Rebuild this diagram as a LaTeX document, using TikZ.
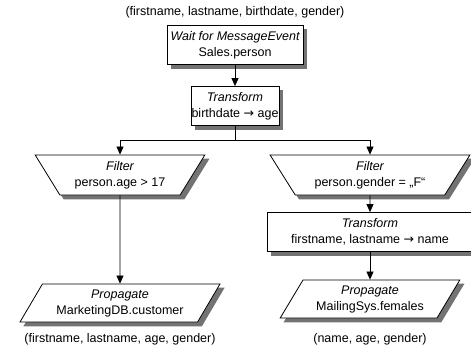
\documentclass[tikz,border=0pt]{standalone}
\usepackage{fontspec}
\setmainfont{Liberation Sans}
\newfontfamily\arrowfont{DejaVu Sans}
\usetikzlibrary{arrows.meta,shapes.geometric,backgrounds,positioning}

\newcommand{\toarrow}{{\arrowfont →}}
\newcommand{\boxshadow}[1]{\fill[shadowfill] ([shift={(4,4)}]#1.north west) rectangle ([shift={(4,4)}]#1.south east);}
\newcommand{\trapshadow}[1]{\fill[shadowfill] ([shift={(4,4)}]#1.top left corner) -- ([shift={(4,4)}]#1.top right corner)
	-- ([shift={(4,4)}]#1.bottom right corner) -- ([shift={(4,4)}]#1.bottom left corner) -- cycle;}

\begin{document}
\begin{tikzpicture}
	[x=1pt, y=-1pt, inner sep=0pt, line width=0.8pt,
	font=\fontsize{12.5}{16}\selectfont,
	shadowfill/.style	= {fill=black!55},
	operator/.style	= {rectangle, draw, fill=white, align=center, minimum height=39pt},
	filterop/.style	= {trapezium, shape border rotate=180, trapezium left angle=56, trapezium right angle=56,
		trapezium stretches=true, draw, fill=white, align=center, minimum height=40pt},
	target/.style	= {trapezium, trapezium left angle=56, trapezium right angle=124,
		trapezium stretches=true, draw, fill=white, align=center, minimum height=38pt},
	paths/.style	= {-{Triangle[length=8pt, width=7pt]}},
	schema/.style	= {align=center}]
	
	\useasboundingbox (0,0) rectangle (471,350);
	
	\node at (235, 12)	[schema]	(inrow)		{(firstname, lastname, birthdate, gender)};
	
	\node at (235, 45)	[operator, minimum width=136pt]	(wait)	{\itshape Wait for MessageEvent\\Sales.person};
	\node at (235, 106)	[operator, minimum width=88pt]	(trans1)	{\itshape Transform\\birthdate \toarrow{} age};
	
	\node at (120, 175)	[filterop, minimum width=170pt]	(filterL)	{\itshape Filter\\person.age > 17};
	\node at (370, 175)	[filterop, minimum width=200pt]	(filterR)	{\itshape Filter\\person.gender = „F“};
	
	\node at (370, 232)	[operator, minimum width=205pt]	(trans2)	{\itshape Transform\\firstname, lastname \toarrow{} name};
	
	\node at (120, 303)	[target, minimum width=200pt]	(propL)	{\itshape Propagate\\MarketingDB.customer};
	\node at (370, 299)	[target, minimum width=180pt]	(propR)	{\itshape Propagate\\MailingSys.females};
	
	\node at (120, 339)	[schema]	(outL)	{(firstname, lastname, age, gender)};
	\node at (370, 339)	[schema]	(outR)	{(name, age, gender)};
	
	% shadows
	\begin{scope}[on background layer]
		\boxshadow{wait}
		\boxshadow{trans1}
		\boxshadow{trans2}
		\trapshadow{filterL}
		\trapshadow{filterR}
		\trapshadow{propL}
		\trapshadow{propR}
	\end{scope}
	
	\coordinate (split) at (235, 140);
	
	\draw [paths] (wait) -- (trans1);
	\draw [paths] (trans1.south) -- (split) -| (filterL.north);
	\draw [paths] (trans1.south) -- (split) -| (filterR.north);
	\draw [paths] (filterL) -- (propL);
	\draw [paths] (filterR) -- (trans2);
	\draw [paths] (trans2) -- (propR);
\end{tikzpicture}
\end{document}
